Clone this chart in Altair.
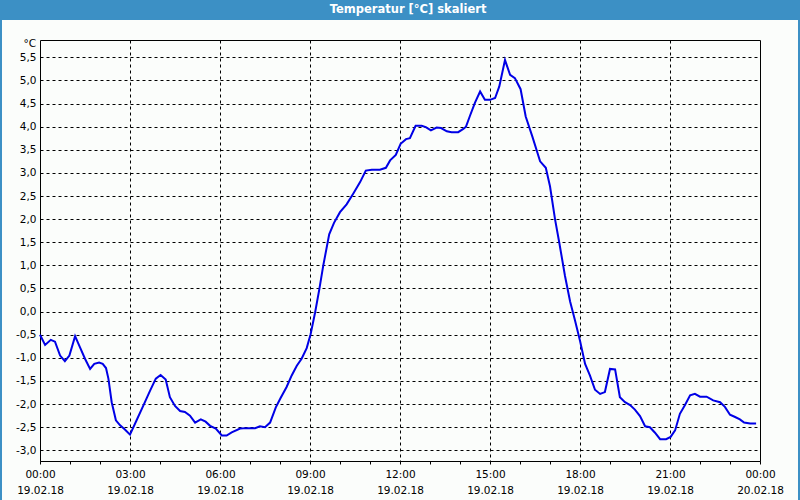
import altair as alt
import pandas as pd

# time in hours after 19.02.18 00:00
hours = [0.0, 0.17, 0.36, 0.5, 0.67, 0.83, 0.98, 1.17, 1.33, 1.5, 1.67, 1.81, 1.97, 2.09, 2.2,
         2.28, 2.39, 2.53, 2.67, 2.83, 3.0, 3.22, 3.44, 3.67, 3.86, 4.02, 4.19, 4.33, 4.5, 4.67,
         4.83, 5.0, 5.17, 5.36, 5.52, 5.67, 5.86, 6.06, 6.22, 6.39, 6.67, 6.89, 7.17, 7.33, 7.5,
         7.67, 7.86, 8.02, 8.22, 8.39, 8.56, 8.72, 8.89, 9.02, 9.17, 9.31, 9.44, 9.64, 9.8, 10.0,
         10.22, 10.44, 10.67, 10.86, 11.06, 11.33, 11.53, 11.67, 11.86, 12.02, 12.2, 12.33, 12.52,
         12.72, 12.86, 13.03, 13.22, 13.37, 13.56, 13.72, 13.94, 14.11, 14.2, 14.33, 14.5, 14.67,
         14.83, 15.0, 15.17, 15.31, 15.5, 15.67, 15.83, 16.02, 16.19, 16.41, 16.67, 16.86, 17.0,
         17.17, 17.31, 17.5, 17.67, 17.83, 18.0, 18.17, 18.33, 18.5, 18.67, 18.83, 19.0, 19.17,
         19.33, 19.5, 19.67, 19.83, 20.0, 20.17, 20.33, 20.5, 20.67, 20.87, 21.02, 21.17, 21.33,
         21.5, 21.67, 21.83, 22.0, 22.22, 22.44, 22.67, 22.83, 23.0, 23.17, 23.33, 23.47, 23.67,
         23.87]
temps = [-0.50, -0.72, -0.61, -0.65, -0.95, -1.07, -0.95, -0.53, -0.77, -1.02, -1.24, -1.13,
         -1.10, -1.13, -1.22, -1.45, -1.96, -2.35, -2.46, -2.55, -2.66, -2.35, -2.04, -1.71,
         -1.45, -1.37, -1.47, -1.85, -2.04, -2.15, -2.17, -2.25, -2.40, -2.33, -2.38, -2.47,
         -2.53, -2.68, -2.68, -2.61, -2.53, -2.52, -2.52, -2.48, -2.50, -2.40, -2.07, -1.87,
         -1.63, -1.38, -1.17, -1.02, -0.79, -0.49, -0.02, 0.48, 0.99, 1.67, 1.92, 2.15, 2.32,
         2.55, 2.80, 3.05, 3.07, 3.07, 3.11, 3.27, 3.39, 3.63, 3.73, 3.75, 4.02, 4.02, 3.99,
         3.92, 3.98, 3.97, 3.90, 3.88, 3.88, 3.95, 4.00, 4.23, 4.52, 4.76, 4.58, 4.58, 4.62,
         4.87, 5.44, 5.12, 5.05, 4.81, 4.22, 3.79, 3.25, 3.11, 2.71, 1.99, 1.49, 0.77, 0.22,
         -0.18, -0.63, -1.13, -1.38, -1.69, -1.78, -1.74, -1.24, -1.25, -1.85, -1.96, -2.02,
         -2.12, -2.26, -2.48, -2.50, -2.62, -2.76, -2.76, -2.71, -2.57, -2.21, -2.02, -1.81,
         -1.78, -1.84, -1.84, -1.92, -1.96, -2.06, -2.23, -2.28, -2.33, -2.40, -2.42, -2.42]

title_text = "Temperatur [°C] skaliert"
unit_text = "°C"
x_ticks = list(range(0, 25))
y_ticks = [v / 2 for v in range(-6, 12)]

df = pd.DataFrame({"h": hours, "t": temps})
one = pd.DataFrame({"title": [title_text], "unit": [unit_text]})

FONT = "DejaVu Sans"
BLUE = "#3c90c5"

x_enc = alt.X(
    "h:Q",
    scale=alt.Scale(domain=[0, 24], nice=False, zero=False),
    axis=alt.Axis(
        values=x_ticks,
        title=None,
        labelExpr="datum.value % 3 == 0 ? [(datum.value == 24 ? '00' : format(datum.value, '02d')) + ':00', datum.value == 24 ? '20.02.18' : '19.02.18'] : ''",
        labelFont=FONT, labelFontSize=10.5, labelColor="#000000",
        labelLineHeight=16, labelPadding=5, labelOverlap=False, labelFlush=False, labelBound=False,
        tickSize=3, tickColor="#000000", domainColor="#000000",
        grid=True, gridColor="#000000", gridDash=[3, 3], gridWidth=1,
        gridOpacity={"condition": {"test": "datum.value % 3 == 0 && datum.value > 0 && datum.value < 24", "value": 1}, "value": 0},
    ),
)
y_enc = alt.Y(
    "t:Q",
    scale=alt.Scale(domain=[-3.231, 5.874], nice=False, zero=False),
    axis=alt.Axis(
        values=y_ticks,
        title=None,
        labelExpr="replace(replace(format(datum.value, '.1f'), '.', ','), '\u2212', '-')",
        labelFont=FONT, labelFontSize=10.5, labelColor="#000000",
        labelPadding=4, tickSize=0, domain=False,
        grid=True, gridColor="#000000", gridDash=[3, 3], gridWidth=1,
    ),
)

line = alt.Chart(df).mark_line(color="#0000e6", strokeWidth=2).encode(x=x_enc, y=y_enc)

bar = alt.Chart(one).mark_rect(color=BLUE).encode(
    x=alt.value(-40), x2=alt.value(760), y=alt.value(-40), y2=alt.value(-20)
)
title = alt.Chart(one).mark_text(
    color="white", font=FONT, fontSize=11.5, fontWeight="bold", align="center", baseline="middle"
).encode(text="title:N", x=alt.value(368), y=alt.value(-30))

border_l = alt.Chart(one).mark_rule(color=BLUE, strokeWidth=2).encode(
    x=alt.value(-39), y=alt.value(-20), y2=alt.value(460)
)
border_r = alt.Chart(one).mark_rule(color=BLUE, strokeWidth=2).encode(
    x=alt.value(759), y=alt.value(-20), y2=alt.value(460)
)
unit = alt.Chart(one).mark_text(
    color="#000000", font=FONT, fontSize=10.5, align="right", baseline="middle"
).encode(text="unit:N", x=alt.value(-4), y=alt.value(4))

chart = alt.layer(line, bar, title, border_l, border_r, unit).properties(
    width=720, height=421,
    autosize=alt.AutoSizeParams(type="none"),
    padding={"left": 40, "top": 40, "right": 40, "bottom": 39},
    background="#fbfdfb",
).configure_view(stroke="#000000", strokeWidth=1)

chart.save("out.html", embed_options={"renderer": "svg", "actions": False})
